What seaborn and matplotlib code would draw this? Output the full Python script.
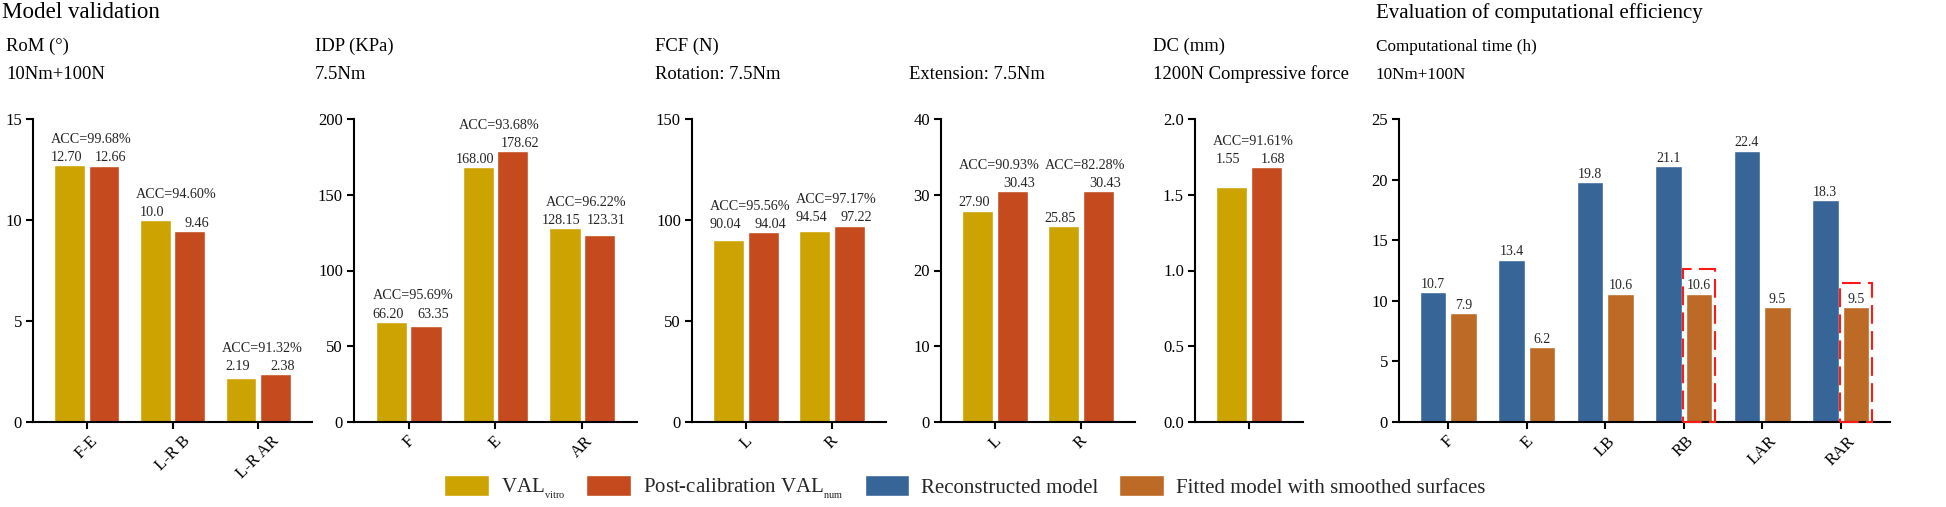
import numpy as np
import pandas as pd
import seaborn as sns
import matplotlib.pyplot as plt
from matplotlib.patches import Patch, Rectangle

# --- data -------------------------------------------------------------
rom_cats = ["F-E", "L-R B", "L-R AR"]
rom_vitro = [12.70, 10.0, 2.19]
rom_num = [12.66, 9.46, 2.38]
rom_vitro_txt = ["12.70", "10.0", "2.19"]
rom_acc = ["99.68", "94.60", "91.32"]

idp_cats = ["F", "E", "AR"]
idp_vitro = [66.20, 168.00, 128.15]
idp_num = [63.35, 178.62, 123.31]
idp_acc = ["95.69", "93.68", "96.22"]

rot_cats = ["L", "R"]
rot_vitro = [90.04, 94.54]
rot_num = [94.04, 97.22]
rot_acc = ["95.56", "97.17"]

ext_cats = ["L", "R"]
ext_vitro = [27.90, 25.85]
ext_num = [30.43, 30.43]
ext_acc = ["90.93", "82.28"]

dc_cats = [""]
dc_vitro = [1.55]
dc_num = [1.68]
dc_acc = ["91.61"]

time_cats = ["F", "E", "LB", "RB", "LAR", "RAR"]
time_recon = [10.7, 13.4, 19.8, 21.1, 22.4, 18.3]
time_fit = [9.0, 6.2, 10.6, 10.6, 9.5, 9.5]
time_fit_txt = ["7.9", "6.2", "10.6", "10.6", "9.5", "9.5"]
time_boxed = ["RB", "RAR"]

GOLD = "#CCA300"
RED = "#C54B1E"
BLUE = "#386598"
ORANGE = "#BC6A26"

W, H = 1946, 507

sns.set_theme(style="ticks")
plt.rcParams["font.family"] = ["Liberation Serif", "DejaVu Serif"]
plt.rcParams["mathtext.fontset"] = "custom"
plt.rcParams["mathtext.rm"] = "Liberation Serif"
plt.rcParams["axes.linewidth"] = 1.5

fig = plt.figure(figsize=(W / 100, H / 100), dpi=100)


def make_ax(x0, x1, top=119, bottom=422):
    return fig.add_axes([x0 / W, 1 - bottom / H, (x1 - x0) / W, (bottom - top) / H])


def style_ax(ax, ymax, step, n, yfmt="{:.0f}"):
    ax.set_xlim(-0.63, n - 1 + 0.63)
    ax.set_ylim(0, ymax)
    ticks = np.arange(0, ymax + step / 2, step)
    ax.set_yticks(ticks)
    ax.set_yticklabels([yfmt.format(t) for t in ticks])
    ax.set_xlabel("")
    ax.set_ylabel("")
    sns.despine(ax=ax)
    for s in ["left", "bottom"]:
        ax.spines[s].set_color("black")
        ax.spines[s].set_linewidth(1.5)
    ax.tick_params(axis="both", direction="out", length=5, width=1.5,
                   colors="black", labelsize=12, pad=3)
    plt.setp(ax.get_xticklabels(), rotation=45, ha="center", va="top")


def val_panel(ax, cats, vitro, num, acc, ymax, step, same, vitro_txt=None,
              num_txt=None, yfmt="{:.0f}"):
    n = len(cats)
    df = pd.DataFrame({"cat": cats * 2,
                       "src": ["vitro"] * n + ["num"] * n,
                       "val": list(vitro) + list(num)})
    sns.barplot(data=df, x="cat", y="val", hue="src", palette=[GOLD, RED],
                width=0.8, gap=0.1, saturation=1, legend=False, ax=ax)
    style_ax(ax, ymax, step, n, yfmt)
    vitro_txt = vitro_txt or [f"{v:.2f}" for v in vitro]
    num_txt = num_txt or [f"{v:.2f}" for v in num]
    c0, c1 = ax.containers[0], ax.containers[1]
    for i in range(n):
        b0, b1 = c0[i], c1[i]
        x0 = b0.get_x() + b0.get_width() / 2
        x1 = b1.get_x() + b1.get_width() / 2
        top = max(vitro[i], num[i])
        y0 = top if same[i] else vitro[i]
        y1 = top if same[i] else num[i]
        kw = dict(textcoords="offset points", ha="center", va="baseline",
                  fontsize=10.2)
        ax.annotate(vitro_txt[i], (x0, y0), xytext=(-2.5, 3), **kw)
        ax.annotate(num_txt[i], (x1, y1), xytext=(5, 3), **kw)
        ax.annotate(f"ACC={acc[i]}%", ((x0 + x1) / 2, top), xytext=(3, 16), **kw)


# --- model validation panels -----------------------------------------
ax1 = make_ax(33, 312)
val_panel(ax1, rom_cats, rom_vitro, rom_num, rom_acc, 15, 5,
          [True, False, True], vitro_txt=rom_vitro_txt)

ax2 = make_ax(354, 637)
val_panel(ax2, idp_cats, idp_vitro, idp_num, idp_acc, 200, 50,
          [True, False, True])

ax3 = make_ax(692, 886)
val_panel(ax3, rot_cats, rot_vitro, rot_num, rot_acc, 150, 50, [True, True])

ax4 = make_ax(941, 1135)
val_panel(ax4, ext_cats, ext_vitro, ext_num, ext_acc, 40, 10, [False, False])

ax5 = make_ax(1195, 1303)
val_panel(ax5, dc_cats, dc_vitro, dc_num, dc_acc, 2.0, 0.5, [True],
          yfmt="{:.1f}")

# --- computational time panel ----------------------------------------
ax6 = make_ax(1399, 1890)
n6 = len(time_cats)
tdf = pd.DataFrame({"cat": time_cats * 2,
                    "model": ["recon"] * n6 + ["fit"] * n6,
                    "val": time_recon + time_fit})
sns.barplot(data=tdf, x="cat", y="val", hue="model", palette=[BLUE, ORANGE],
            width=0.78, gap=0.13, saturation=1, legend=False, ax=ax6)
style_ax(ax6, 25, 5, n6)
for i in range(n6):
    b0, b1 = ax6.containers[0][i], ax6.containers[1][i]
    kw = dict(textcoords="offset points", ha="center", va="baseline",
              fontsize=10, xytext=(0, 3))
    ax6.annotate(f"{time_recon[i]:.1f}", (b0.get_x() + b0.get_width() / 2,
                                          time_recon[i]), **kw)
    ax6.annotate(time_fit_txt[i], (b1.get_x() + b1.get_width() / 2,
                                   time_fit[i]), **kw)
    if time_cats[i] in time_boxed:
        ax6.add_patch(Rectangle((b1.get_x() - 0.035, 0), b1.get_width() + 0.07,
                                time_fit[i] + 2.0, fill=False, edgecolor="#FF1A1A",
                                linewidth=1.5, linestyle=(0, (9, 3.5)),
                                clip_on=False, zorder=5))

# --- headers ----------------------------------------------------------
def px_text(x, y, s, size):
    fig.text(x / W, 1 - y / H, s, fontsize=size, ha="left", va="baseline",
             color="black")

px_text(2, 18, "Model validation", 16.6)
px_text(1376, 18, "Evaluation of computational efficiency", 15)
heads = [(6, "RoM (°)", "10Nm+100N", 13.4),
         (315, "IDP (KPa)", "7.5Nm", 13.4),
         (655, "FCF (N)", "Rotation: 7.5Nm", 13.4),
         (909, "", "Extension: 7.5Nm", 13.4),
         (1153, "DC (mm)", "1200N Compressive force", 13.4),
         (1376, "Computational time (h)", "10Nm+100N", 12.3)]
for x, h1, h2, fs in heads:
    if h1:
        px_text(x, 51, h1, fs)
    px_text(x, 79, h2, fs)

# --- legend -----------------------------------------------------------
handles = [Patch(facecolor=GOLD, label=r"VAL$_{_{\mathrm{vitro}}}$"),
           Patch(facecolor=RED, label=r"Post-calibration VAL$_{_{\mathrm{num}}}$"),
           Patch(facecolor=BLUE, label="Reconstructed model"),
           Patch(facecolor=ORANGE, label="Fitted model with smoothed surfaces")]
fig.legend(handles=handles, loc="center", bbox_to_anchor=(965 / W, 1 - 488 / H),
           ncol=4, frameon=False, fontsize=15, handlelength=2.15,
           handleheight=1.15, handletextpad=0.58, columnspacing=1.0)

fig.savefig("out.png", dpi=100)
